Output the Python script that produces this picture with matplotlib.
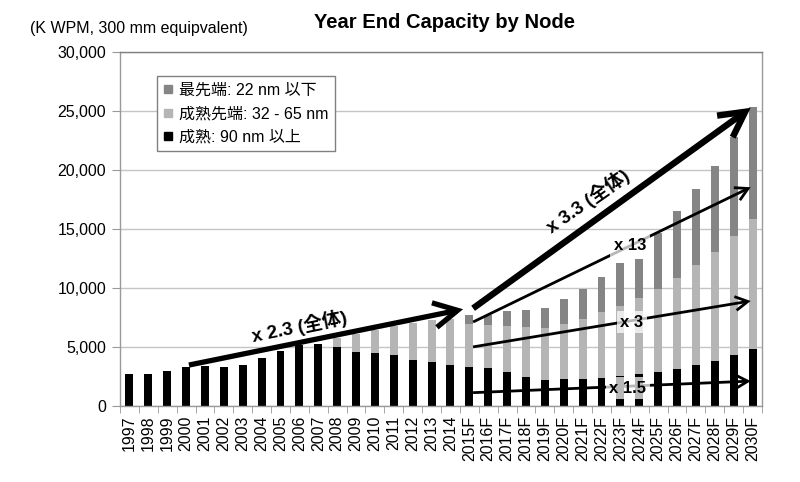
import matplotlib
matplotlib.use("Agg")
import matplotlib.pyplot as plt
from matplotlib.lines import Line2D
import numpy as np

plt.rcParams['font.family'] = ['Liberation Sans', 'Noto Sans CJK JP', 'DejaVu Sans']

years = ['1997', '1998', '1999', '2000', '2001', '2002', '2003', '2004', '2005', '2006',
         '2007', '2008', '2009', '2010', '2011', '2012', '2013', '2014', '2015F', '2016F',
         '2017F', '2018F', '2019F', '2020F', '2021F', '2022F', '2023F', '2024F', '2025F',
         '2026F', '2027F', '2028F', '2029F', '2030F']

mature = [2700, 2750, 2950, 3300, 3400, 3300, 3500, 4100, 4650, 5200,
          5250, 5000, 4550, 4450, 4300, 3900, 3750, 3500, 3300, 3200,
          2850, 2500, 2200, 2250, 2300, 2400, 2550, 2700, 2850,
          3100, 3450, 3850, 4300, 4800]
mature_adv = [0, 0, 0, 0, 0, 0, 0, 0, 0, 0,
              0, 800, 1550, 2000, 2450, 3100, 3550, 3900, 3660, 3680,
              3940, 4210, 4370, 4740, 5110, 5550, 5950, 6490, 7100,
              7780, 8470, 9200, 10100, 11070]
leading = [0, 0, 0, 0, 0, 0, 0, 0, 0, 0,
           0, 0, 0, 0, 0, 0, 0, 0, 710, 840,
           1240, 1460, 1770, 2060, 2540, 2980, 3620, 3290, 4700,
           5630, 6430, 7320, 8370, 9490]

labels = ['最先端: 22 nm 以下', '成熟先端: 32 - 65 nm', '成熟: 90 nm 以上']
colors = ['#858585', '#b5b5b5', '#000000']

# arrow annotations: (start_x, start_y, end_x, end_y, line width, head length, head width)
arrows = [
    (3.15, 3470, 17.67, 8200, 3.8, 0.85, 0.45),
    (18.2, 8280, 32.9, 25270, 4.6, 0.9, 0.48),
    (18.2, 7120, 32.9, 18540, 2.0, 0.45, 0.25),
    (18.2, 5010, 32.9, 8900, 2.0, 0.45, 0.25),
    (18.2, 1130, 32.9, 2110, 2.0, 0.45, 0.25),
]
notes = [
    ('x 2.3 (全体)', 9.0, 6700, 11.5, 13.5, False),
    ('x 3.3 (全体)', 24.3, 17350, 35, 13.5, False),
    ('x 13', 26.5, 13600, 0, 12, True),
    ('x 3', 26.6, 7100, 0, 12, True),
    ('x 1.5', 26.4, 1520, 0, 12, True),
]

fig = plt.figure(figsize=(8, 4.82), dpi=100)
ax = fig.add_axes([120/800, 76/482, 642/800, 354/482])

x = np.arange(len(years))
w = 0.42
m = np.array(mature)
ma = np.array(mature_adv)
ld = np.array(leading)
ax.bar(x, m, w, color=colors[2], zorder=2)
ax.bar(x, ma, w, bottom=m, color=colors[1], zorder=2)
ax.bar(x, ld, w, bottom=m + ma, color=colors[0], zorder=2)

ax.set_xlim(-0.5, len(years) - 0.5)
ax.set_ylim(0, 30000)
ax.set_yticks(np.arange(0, 30001, 5000))
ax.set_yticklabels([f'{v:,}' for v in range(0, 30001, 5000)], fontsize=11.5)
ax.yaxis.grid(True, color='#c4c4c4', lw=1, zorder=0)
ax.set_axisbelow(True)

ax.set_xticks(x)
ax.set_xticklabels(years, rotation=90, fontsize=11.5)
ax.set_xticks(np.arange(-0.5, len(years), 1), minor=True)
ax.tick_params(axis='x', which='major', length=0, pad=7)
ax.tick_params(axis='x', which='minor', length=5, color='#999999')
ax.tick_params(axis='y', length=6, color='#999999', pad=4)
for s in ax.spines.values():
    s.set_color('#999999')
    s.set_linewidth(1)
ax.spines['top'].set_color('#808080')

for (x0, y0, x1, y1, lw, hl, hw) in arrows:
    ax.annotate('', xy=(x1, y1), xytext=(x0, y0), xycoords='data', textcoords='data',
                arrowprops=dict(arrowstyle=f'->,head_length={hl},head_width={hw}',
                                lw=lw, color='black', mutation_scale=20,
                                shrinkA=0, shrinkB=0, joinstyle='miter', capstyle='butt'),
                zorder=4)

for (t, tx, ty, rot, fs, box) in notes:
    kw = {}
    if box:
        kw['bbox'] = dict(facecolor='white', edgecolor='none', alpha=0.72, pad=2.5)
    ax.text(tx, ty, t, rotation=rot, fontsize=fs, fontweight='bold', ha='center',
            va='center', rotation_mode='anchor', zorder=5, **kw)

handles = [Line2D([], [], marker='s', linestyle='', color=c, markersize=6) for c in colors]
leg = fig.legend(handles, labels, loc='upper left', bbox_to_anchor=(157/800, 1 - 76/482),
                 bbox_transform=fig.transFigure, borderaxespad=0, fontsize=11.5,
                 frameon=True, fancybox=False, edgecolor='#808080', framealpha=1,
                 handlelength=0.6, handletextpad=0.4, labelspacing=0.55, borderpad=0.4)
leg.get_frame().set_linewidth(1)

fig.text(445/800, 1 - 23/482, 'Year End Capacity by Node', ha='center', va='center',
         fontsize=14.5, fontweight='bold')
fig.text(30/800, 1 - 29/482, '(K WPM, 300 mm equipvalent)', ha='left', va='center',
         fontsize=11.5)

fig.savefig('out.png', dpi=100)
